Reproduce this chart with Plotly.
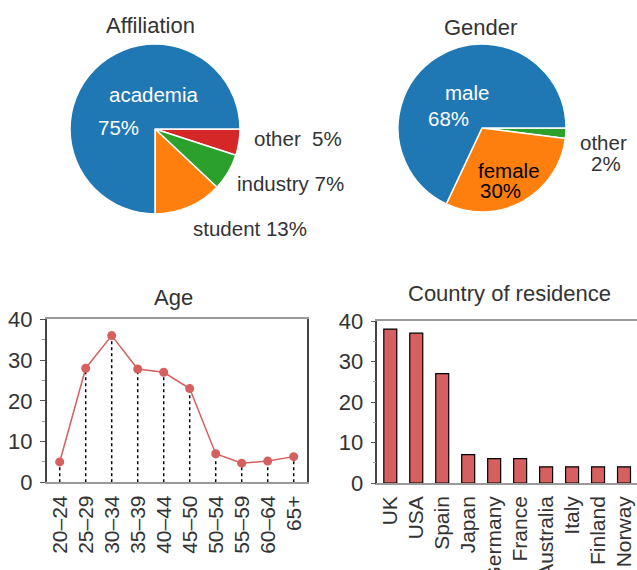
import plotly.graph_objects as go

# ---- data ----
aff_labels = ["other", "industry", "student", "academia"]
aff_values = [5, 7, 13, 75]
aff_colors = ["#d62728", "#2ca02c", "#ff7f0e", "#1f77b4"]

gen_labels = ["other", "female", "male"]
gen_values = [2, 30, 68]
gen_colors = ["#2ca02c", "#ff7f0e", "#1f77b4"]

age_groups = ["20–24", "25–29", "30–34", "35–39", "40–44", "45–50",
              "50–54", "55–59", "60–64", "65+"]
age_values = [5, 28, 36, 27.8, 27, 23, 7, 4.7, 5.2, 6.3]

countries = ["UK", "USA", "Spain", "Japan", "Germany", "France",
             "Australia", "Italy", "Finland", "Norway"]
country_values = [38, 37, 27, 7, 6, 6, 4, 4, 4, 4]

y_ticks = [0, 10, 20, 30, 40]

# ---- style ----
W, H = 637, 570
FONT = "Liberation Sans"
TXT = "#333333"
RED = "#d65f5f"
PIE_FS = 20.5


def px_x(p):
    return p / W


def px_y(p):
    return 1 - p / H


fig = go.Figure()

fig.add_trace(go.Pie(
    labels=aff_labels, values=aff_values, sort=False, direction="clockwise",
    rotation=90, marker=dict(colors=aff_colors, line=dict(color="white", width=1.5)),
    textinfo="none", hoverinfo="label+percent", showlegend=False,
    domain=dict(x=[px_x(70), px_x(240)], y=[px_y(214), px_y(44)]),
))
fig.add_trace(go.Pie(
    labels=gen_labels, values=gen_values, sort=False, direction="clockwise",
    rotation=90, marker=dict(colors=gen_colors, line=dict(color="white", width=1.5)),
    textinfo="none", hoverinfo="label+percent", showlegend=False,
    domain=dict(x=[px_x(398), px_x(566)], y=[px_y(212), px_y(44)]),
))

# Age: stems
stem_x, stem_y = [], []
for g, v in zip(age_groups, age_values):
    stem_x += [g, g, None]
    stem_y += [0, v, None]
fig.add_trace(go.Scatter(
    x=stem_x, y=stem_y, mode="lines", xaxis="x", yaxis="y",
    line=dict(color="black", width=1.5, dash="dot"), showlegend=False, hoverinfo="skip",
))
fig.add_trace(go.Scatter(
    x=age_groups, y=age_values, mode="lines+markers", xaxis="x", yaxis="y",
    line=dict(color=RED, width=1.5), marker=dict(color=RED, size=9),
    showlegend=False,
))

# Countries
fig.add_trace(go.Bar(
    x=countries, y=country_values, xaxis="x2", yaxis="y2",
    marker=dict(color=RED, line=dict(color="black", width=1.2)),
    showlegend=False,
))

xtick_font = dict(family=FONT, size=21, color=TXT)
ytick_font = dict(family=FONT, size=22, color=TXT)

common_x = dict(
    type="category", range=[-0.5, 9.5], tickangle=-90, ticks="", showgrid=False,
    showline=True, linecolor="#9a9a9a", linewidth=1.5, mirror=True,
    tickfont=xtick_font, ticklabelstandoff=3, zeroline=False, automargin=False,
    tickmode="array",
)
common_y = dict(
    range=[0, 40], tickvals=y_ticks, ticks="outside", ticklen=5, tickcolor="#555",
    minor=dict(dtick=5, tick0=0, ticks="outside", ticklen=3, tickcolor="#999", showgrid=False),
    showgrid=False, showline=True, linecolor="#444", linewidth=1.5,
    tickfont=ytick_font, zeroline=False, ticklabelstandoff=3, automargin=False,
)

fig.update_layout(
    template="none",
    width=W, height=H, margin=dict(l=0, r=0, t=0, b=0, pad=0),
    paper_bgcolor="white", plot_bgcolor="white",
    font=dict(family=FONT, size=22, color=TXT),
    bargap=0.5,
    xaxis=dict(common_x, domain=[px_x(46.7), px_x(306.7)], anchor="y",
               tickvals=age_groups, ticktext=age_groups),
    yaxis=dict(common_y, domain=[px_y(482.3), px_y(319.3)], anchor="x", mirror=True),
    xaxis2=dict(common_x, domain=[px_x(377.3), 1.0], anchor="y2",
                tickvals=countries, ticktext=countries),
    yaxis2=dict(common_y, domain=[px_y(483), px_y(321)], anchor="x2", mirror=False),
)


def ann(text, x, y, color=TXT, size=22):
    fig.add_annotation(text=text, x=px_x(x), y=px_y(y), xref="paper", yref="paper",
                       showarrow=False, xanchor="center", yanchor="middle",
                       font=dict(family=FONT, size=size, color=color))


# titles
ann("Affiliation", 150, 25)
ann("Gender", 480, 27)
ann("Age", 173, 297)
ann("Country of residence", 509, 293)

# pie labels
ann(aff_labels[3], 153, 95, "white", PIE_FS)
ann(f"{aff_values[3]}%", 118, 127, "white", PIE_FS)
ann(f"{aff_labels[0]}  {aff_values[0]}%", 298, 138, TXT, PIE_FS)
ann(f"{aff_labels[1]} {aff_values[1]}%", 290, 183, TXT, PIE_FS)
ann(f"{aff_labels[2]} {aff_values[2]}%", 250, 228, TXT, PIE_FS)

ann(gen_labels[2], 467, 92, "white", PIE_FS)
ann(f"{gen_values[2]}%", 449, 119, "white", PIE_FS)
ann(gen_labels[1], 509, 170, "black", PIE_FS)
ann(f"{gen_values[1]}%", 500, 191, "black", PIE_FS)
ann(gen_labels[0], 603, 142, TXT, PIE_FS)
ann(f"{gen_values[0]}%", 606, 163, TXT, PIE_FS)

fig.write_html("out.html", config={"displayModeBar": False},
               post_script="document.body.style.margin='0';")
